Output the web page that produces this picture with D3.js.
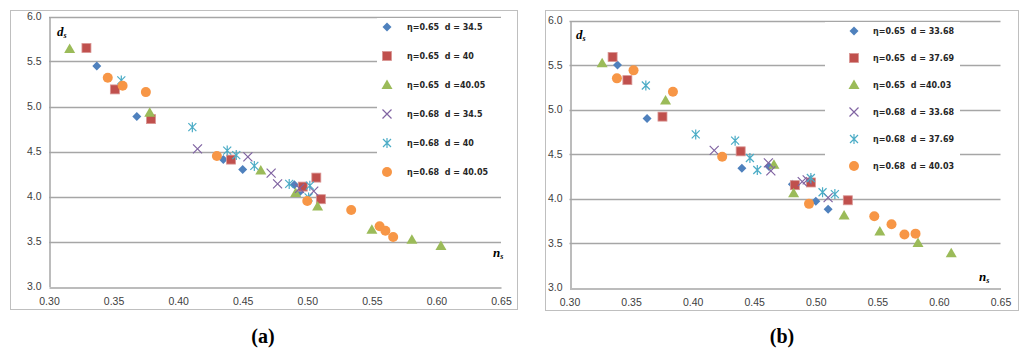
<!DOCTYPE html>
<html>
<head>
<meta charset="utf-8">
<style>
body { margin: 0; background: #fff; }
svg { display: block; }
.leg { white-space: pre; }
</style>
</head>
<body>
<svg id="fig" width="1024" height="353"></svg>
<script src="https://d3js.org/d3.v7.min.js"></script>
<script>
// ---- data ----
var xTicks = [0.30, 0.35, 0.40, 0.45, 0.50, 0.55, 0.60, 0.65];
var yTicks = [3.0, 3.5, 4.0, 4.5, 5.0, 5.5, 6.0];

// panel (a)
var aNames = ["η=0.65  d = 34.5", "η=0.65  d = 40", "η=0.65  d =40.05",
              "η=0.68  d = 34.5", "η=0.68  d = 40", "η=0.68  d = 40.05"];
var a1 = [[0.337,5.45],[0.368,4.89],[0.435,4.41],[0.450,4.30],[0.490,4.13],[0.494,4.05]];
var a2 = [[0.329,5.65],[0.351,5.19],[0.379,4.86],[0.441,4.41],[0.4965,4.11],[0.507,4.21],[0.5105,3.97]];
var a3 = [[0.316,5.64],[0.378,4.93],[0.464,4.29],[0.491,4.04],[0.508,3.89],[0.550,3.63],[0.581,3.52],[0.6035,3.45]];
var a4 = [[0.415,4.53],[0.454,4.44],[0.472,4.26],[0.477,4.14],[0.494,4.09],[0.505,4.06]];
var a5 = [[0.356,5.29],[0.411,4.77],[0.438,4.51],[0.445,4.46],[0.459,4.34],[0.486,4.14],[0.502,4.12],[0.501,3.99]];
var a6 = [[0.3455,5.32],[0.357,5.23],[0.375,5.16],[0.430,4.45],[0.500,3.95],[0.534,3.85],[0.556,3.67],[0.5605,3.62],[0.5665,3.55]];

// panel (b)
var bNames = ["η=0.65  d = 33.68", "η=0.65  d = 37.69", "η=0.65  d =40.03",
              "η=0.68  d = 33.68", "η=0.68  d = 37.69", "η=0.68  d = 40.03"];
var b1 = [[0.339,5.50],[0.363,4.90],[0.440,4.34],[0.462,4.36],[0.481,4.16],[0.500,3.97],[0.510,3.88]];
var b2 = [[0.335,5.59],[0.347,5.33],[0.3755,4.92],[0.439,4.53],[0.483,4.15],[0.496,4.18],[0.526,3.98]];
var b3 = [[0.3265,5.52],[0.378,5.10],[0.466,4.38],[0.482,4.06],[0.523,3.81],[0.552,3.63],[0.583,3.50],[0.610,3.385]];
var b4 = [[0.4175,4.54],[0.4615,4.40],[0.4635,4.31],[0.489,4.19],[0.493,4.21],[0.510,4.01]];
var b5 = [[0.362,5.27],[0.4025,4.72],[0.4345,4.65],[0.4465,4.455],[0.4525,4.32],[0.496,4.23],[0.5055,4.07],[0.5155,4.05]];
var b6 = [[0.3385,5.35],[0.352,5.44],[0.384,5.20],[0.424,4.47],[0.4945,3.94],[0.5475,3.80],[0.5615,3.71],[0.572,3.595],[0.581,3.605]];

var colors = ["#4F81BD", "#C0504D", "#9BBB59", "#8064A2", "#4BACC6", "#F79646"];
var shapes = ["diamond", "square", "triangle", "cross", "star", "circle"];

var svg = d3.select("#fig");

function marker(g, shape, color, x, y) {
  if (shape === "diamond") {
    g.append("path").attr("d", "M" + x + "," + (y - 4.5) + "L" + (x + 4.5) + "," + y + "L" + x + "," + (y + 4.5) + "L" + (x - 4.5) + "," + y + "Z")
      .attr("fill", color);
  } else if (shape === "square") {
    g.append("rect").attr("x", x - 4.5).attr("y", y - 4.5).attr("width", 9).attr("height", 9)
      .attr("fill", color).attr("stroke", "#d99694").attr("stroke-width", 0.8);
  } else if (shape === "triangle") {
    g.append("path").attr("d", "M" + x + "," + (y - 5.5) + "L" + (x + 5.5) + "," + (y + 4) + "L" + (x - 5.5) + "," + (y + 4) + "Z")
      .attr("fill", color);
  } else if (shape === "circle") {
    g.append("circle").attr("cx", x).attr("cy", y).attr("r", 5).attr("fill", color);
  } else if (shape === "cross") {
    g.append("path").attr("d", "M" + (x - 4.5) + "," + (y - 4.5) + "L" + (x + 4.5) + "," + (y + 4.5) + "M" + (x + 4.5) + "," + (y - 4.5) + "L" + (x - 4.5) + "," + (y + 4.5))
      .attr("stroke", color).attr("stroke-width", 1.2).attr("fill", "none");
  } else if (shape === "star") {
    g.append("path").attr("d", "M" + (x - 4) + "," + (y - 4) + "L" + (x + 4) + "," + (y + 4) + "M" + (x + 4) + "," + (y - 4) + "L" + (x - 4) + "," + (y + 4) + "M" + x + "," + (y - 5) + "L" + x + "," + (y + 5))
      .attr("stroke", color).attr("stroke-width", 1.2).attr("fill", "none");
  }
}

function drawPanel(p) {
  var g = svg.append("g");
  g.append("rect").attr("x", p.box[0] + 0.5).attr("y", p.box[1] + 0.5)
    .attr("width", p.box[2] - p.box[0]).attr("height", p.box[3] - p.box[1])
    .attr("fill", "#fff").attr("stroke", "#bfbfbf").attr("stroke-width", 1);

  var x = d3.scaleLinear().domain([0.30, 0.65]).range([p.plot[0], p.plot[1]]);
  var y = d3.scaleLinear().domain([3.0, 6.0]).range([p.plot[3], p.plot[2]]);

  // gridlines
  g.selectAll(".grid").data(yTicks.slice(1)).enter().append("line")
    .attr("x1", x(0.30)).attr("x2", x(0.65))
    .attr("y1", function(d) { return Math.round(y(d)) + 0.5; })
    .attr("y2", function(d) { return Math.round(y(d)) + 0.5; })
    .attr("stroke", "#a6a6a6").attr("stroke-width", 1.3);

  // axes
  var xa = g.append("g").attr("transform", "translate(0," + (Math.round(y(3.0)) + 0.5) + ")")
    .call(d3.axisBottom(x).tickValues(xTicks).tickFormat(d3.format(".2f")).tickSize(0).tickPadding(10));
  var ya = g.append("g").attr("transform", "translate(" + (Math.round(x(0.30)) + 0.5) + ",0)")
    .call(d3.axisLeft(y).tickValues(yTicks).tickFormat(d3.format(".1f")).tickSize(0).tickPadding(8));
  [xa, ya].forEach(function(a) {
    a.select(".domain").attr("stroke", "#a6a6a6").attr("stroke-width", 1.5);
    a.selectAll("text").attr("fill", "#404040").style("font-family", "Liberation Sans, Arial, sans-serif").style("font-size", "10.5px");
  });

  // legend background hides gridlines
  g.append("rect").attr("x", p.leg[0]).attr("y", p.leg[1]).attr("width", p.leg[2]).attr("height", p.leg[3]).attr("fill", "#fff");

  // points
  p.series.forEach(function(s, i) {
    var sg = g.append("g");
    s.forEach(function(d) { marker(sg, shapes[i], colors[i], x(d[0]), y(d[1])); });
  });

  // legend
  p.names.forEach(function(n, i) {
    var ly = p.legRow0 + i * p.legStep;
    marker(g, shapes[i], colors[i], p.legSym, ly);
    g.append("text").attr("class", "leg").attr("x", p.legText).attr("y", ly + 3)
      .style("font-family", "DejaVu Sans, Verdana, sans-serif").style("font-size", "8px").style("font-weight", "bold")
      .attr("fill", "#262626").text(n);
  });

  // axis titles
  var t1 = g.append("text").attr("x", p.dLab[0]).attr("y", p.dLab[1])
    .style("font-family", "Liberation Serif, Times New Roman, serif").style("font-style", "italic").style("font-weight", "bold").style("font-size", "13px");
  t1.append("tspan").text("d");
  t1.append("tspan").attr("dy", 2).style("font-size", "8px").text("s");
  var t2 = g.append("text").attr("x", p.nLab[0]).attr("y", p.nLab[1])
    .style("font-family", "Liberation Serif, Times New Roman, serif").style("font-style", "italic").style("font-weight", "bold").style("font-size", "13px");
  t2.append("tspan").text("n");
  t2.append("tspan").attr("dy", 2).style("font-size", "8px").text("s");

  g.append("text").attr("x", p.sub[0]).attr("y", p.sub[1]).attr("text-anchor", "middle")
    .style("font-family", "Liberation Serif, Times New Roman, serif").style("font-weight", "bold").style("font-size", "20px")
    .text(p.subText);
}

drawPanel({
  box: [10, 10, 517, 309], plot: [49, 501, 16.5, 286.5],
  leg: [377, 18, 124, 172],
  series: [a1, a2, a3, a4, a5, a6], names: aNames,
  legSym: 387, legText: 407, legRow0: 27, legStep: 29,
  dLab: [57, 36], nLab: [493, 257], sub: [263, 343], subText: "(a)"
});
drawPanel({
  box: [545, 10, 1018, 310], plot: [569.5, 1000.5, 20.5, 287.5],
  leg: [825, 22, 135, 160],
  series: [b1, b2, b3, b4, b5, b6], names: bNames,
  legSym: 854, legText: 873, legRow0: 31, legStep: 27,
  dLab: [576, 39], nLab: [979, 281], sub: [782, 343], subText: "(b)"
});
</script>
</body>
</html>
